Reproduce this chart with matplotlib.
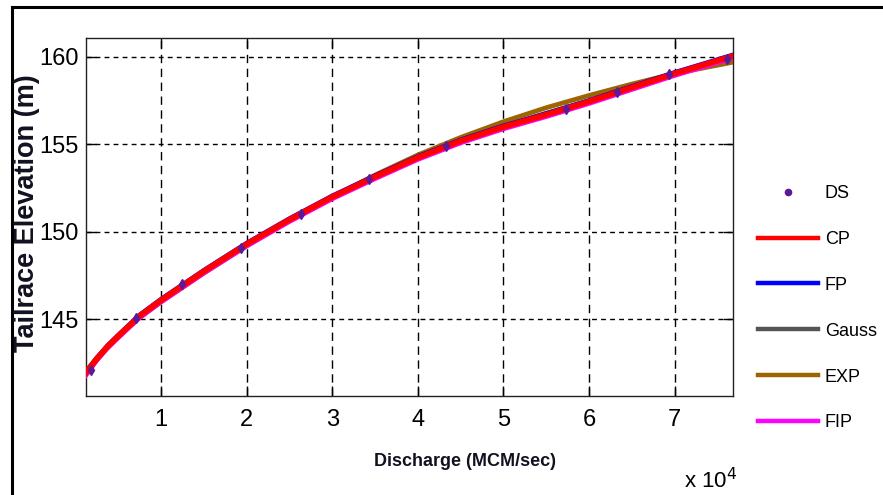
import matplotlib
matplotlib.use("Agg")
import matplotlib.pyplot as plt
from matplotlib.lines import Line2D
from matplotlib.ticker import FuncFormatter

# ── Data ─────────────────────────────────────────────────────────────────────

ds_q = [1800, 7050, 12500, 19400, 26300, 34300, 43300, 57300, 63200, 69300, 76100]
ds_h = [142.1, 145.1, 147.0, 149.1, 151.0, 153.0, 154.9, 157.0, 158.0, 159.0, 159.9]

fit_q = [1250, 2500, 3750, 5000, 7500, 10000, 15000, 20000, 25000, 30000, 35000,
         40000, 45000, 50000, 55000, 60000, 65000, 70000, 76800]
cp_h = [141.95, 142.75, 143.45, 144.05, 145.2, 146.1, 147.75, 149.3, 150.7, 152.0,
        153.15, 154.25, 155.2, 156.0, 156.7, 157.45, 158.25, 159.05, 160.05]
fp_h = [142.07, 142.87, 143.57, 144.17, 145.32, 146.22, 147.87, 149.42, 150.82, 152.12,
        153.27, 154.37, 155.32, 156.12, 156.82, 157.57, 158.37, 159.17, 160.17]
gauss_h = [141.98, 142.78, 143.48, 144.08, 145.22, 146.12, 147.76, 149.3, 150.7, 152.0,
           153.2, 154.3, 155.25, 156.05, 156.8, 157.5, 158.3, 159.05, 160.0]
exp_h = [142.05, 142.8, 143.45, 144.0, 145.1, 146.0, 147.65, 149.2, 150.65, 152.0,
         153.25, 154.4, 155.4, 156.3, 157.1, 157.8, 158.45, 159.05, 159.7]
fip_h = [141.75, 142.6, 143.3, 143.9, 145.05, 145.95, 147.6, 149.15, 150.55, 151.85,
         153.0, 154.1, 155.05, 155.85, 156.55, 157.3, 158.1, 158.9, 159.9]

series_names = ["DS", "CP", "FP", "Gauss", "EXP", "FIP"]
series_colors = ["#5e1a96", "#ff0000", "#0000ff", "#555555", "#9c6500", "#ff00ff"]

x_ticks = [10000, 20000, 30000, 40000, 50000, 60000, 70000]
y_ticks = [145, 150, 155, 160]

# narrow fonts first, ordinary ones as fallback
NARROW = ["DejaVu Sans Condensed", "Liberation Sans Narrow", "Liberation Sans", "DejaVu Sans"]

# ── Figure ───────────────────────────────────────────────────────────────────

fig = plt.figure(figsize=(8.83, 4.95), dpi=100)
fig.patch.set_facecolor("white")
ax = fig.add_axes([86 / 883, 1 - 396 / 495, (733 - 86) / 883, (396 - 38) / 495])

c_ds, c_cp, c_fp, c_gauss, c_exp, c_fip = series_colors
ax.plot(fit_q, exp_h, color=c_exp, lw=3.4, zorder=3)
ax.plot(fit_q, gauss_h, color=c_gauss, lw=3.0, zorder=3)
ax.plot(fit_q, fip_h, color=c_fip, lw=2.4, zorder=3)
ax.plot(fit_q, fp_h, color=c_fp, lw=2.0, zorder=3)
ax.plot(fit_q, cp_h, color=c_cp, lw=4.2, zorder=4)
ax.plot(ds_q, ds_h, ls="none", marker="d", ms=5.5, color=c_ds, zorder=5)

ax.set_xlim(1250, 76800)
ax.set_ylim(140.63, 161.08)
ax.set_xticks(x_ticks)
ax.set_yticks(y_ticks)
ax.xaxis.set_major_formatter(FuncFormatter(lambda v, p: f"{v / 1e4:g}"))

ax.tick_params(direction="in", length=7, width=1, top=True, right=True,
               labelsize=17, colors="black")
ax.tick_params(axis="x", pad=9)
ax.tick_params(axis="y", pad=5)
for lab in ax.get_xticklabels() + ax.get_yticklabels():
    lab.set_family(NARROW)

for s in ax.spines.values():
    s.set_linewidth(1.0)
    s.set_color("#222222")

# dashed grid, different dash lengths horizontally and vertically like the source
for q in x_ticks:
    ax.axvline(q, color="black", lw=1.0, dashes=(6, 4), zorder=1)
for h in y_ticks:
    ax.axhline(h, color="black", lw=1.0, dashes=(3.5, 3), zorder=1)

# axis labels
fig.text(465 / 883, 1 - 461 / 495, "Discharge (MCM/sec)", ha="center", va="center",
         fontsize=13, fontweight="bold", family=NARROW, color="#111122")
fig.text(27 / 883, 1 - 213 / 495, "Tailrace Elevation (m)", ha="center", va="center",
         rotation=90, fontsize=19.5, fontweight="bold",
         family=["Liberation Sans", "DejaVu Sans"], color="#111122")
fig.text(684 / 883, 1 - 481 / 495, "x 10$^4$", ha="left", va="center", fontsize=16,
         family=NARROW, math_fontfamily="dejavusans")

# legend outside on the right
handles = [Line2D([], [], ls="none", marker="o", ms=4.5, color=c_ds)]
handles += [Line2D([], [], color=c, lw=3.2) for c in series_colors[1:]]
ax.legend(handles, series_names, loc="upper left",
          bbox_to_anchor=(758 / 883, 1 - 185 / 495), bbox_transform=fig.transFigure,
          frameon=False, borderpad=0, borderaxespad=0, handlelength=3.3,
          handletextpad=0.4, labelspacing=1.6, prop={"family": NARROW, "size": 13})

# outer frame (left and top edges only)
fig.add_artist(Line2D([11.5 / 883, 11.5 / 883], [0, 1 - 7 / 495], color="black",
                      lw=2.2, transform=fig.transFigure))
fig.add_artist(Line2D([11.5 / 883, 1], [1 - 7 / 495, 1 - 7 / 495], color="black",
                      lw=2.2, transform=fig.transFigure))

fig.savefig("out.png", dpi=100)
plt.close(fig)
